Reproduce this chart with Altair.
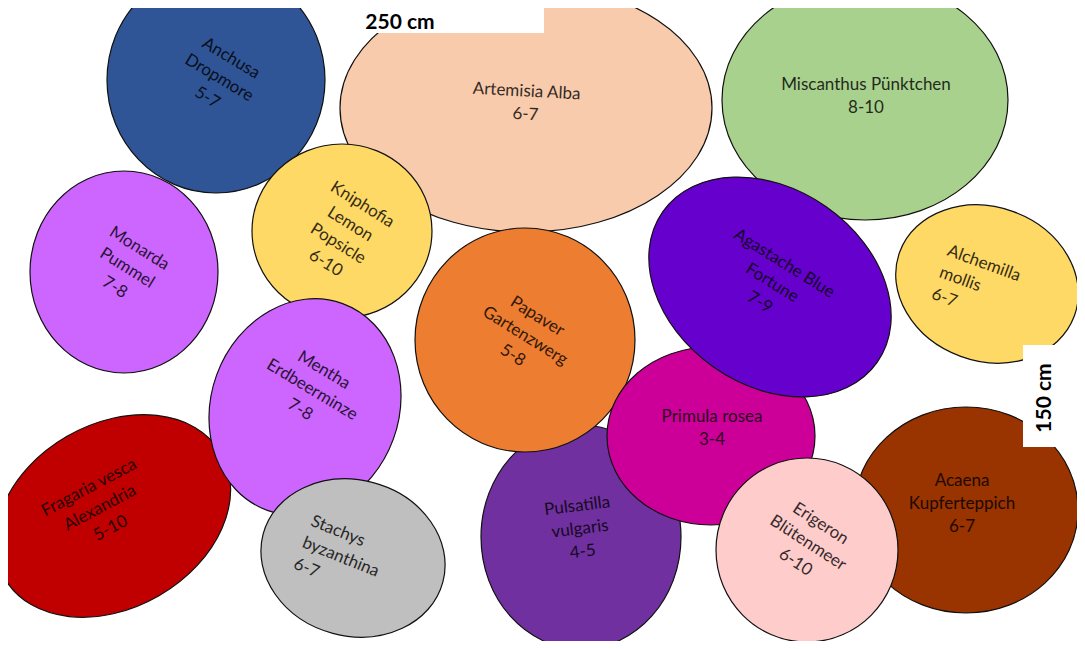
import altair as alt
import pandas as pd

# --- plants (drawn bottom to top) ---
names = ["Artemisia Alba", "Miscanthus Pünktchen", "Anchusa\nDropmore", "Monarda\nPummel",
         "Kniphofia\nLemon\nPopsicle", "Fragaria vesca\nAlexandria", "Mentha\nErdbeerminze",
         "Stachys\nbyzanthina", "Pulsatilla\nvulgaris", "Papaver\nGartenzwerg", "Primula rosea",
         "Agastache Blue\nFortune", "Alchemilla\nmollis", "Acaena\nKupferteppich", "Erigeron\nBlütenmeer"]
months = ["6-7", "8-10", "5-7", "7-8", "6-10", "5-10", "7-8", "6-7", "4-5", "5-8", "3-4",
          "7-9", "6-7", "6-7", "6-10"]
colors = ["#F8CBAD", "#A9D18E", "#2F5597", "#CC66FF", "#FFD966", "#C00000", "#CC66FF",
          "#BFBFBF", "#7030A0", "#ED7D31", "#CC0099", "#6600CC", "#FFD966", "#993300", "#FFCCCC"]
# ellipse centre / radii / tilt (bed coordinates, px of the plan)
cx = [526, 865, 216, 124, 342, 113, 305, 353, 581, 525, 711, 770, 987, 966, 807]
cy = [108, 100, 80, 272, 231, 516, 407, 558, 537, 340, 436, 287, 284, 510, 550]
rx = [186, 143, 109, 94, 90, 125, 94, 93, 100, 110, 104, 131, 93, 112, 91]
ry = [124, 120, 113, 101, 87, 92, 110, 78, 112, 112, 89, 98, 77, 103, 92]
tilt = [0, 0, 0, 0, 0, 330, 20, 15, 0, 0, 0, 35, 20, 0, 0]
# label anchor (centre of the text block) / rotation / alignment
label_x = [526, 866, 219, 127, 344, 100, 312, 303, 580, 525, 712, 772, 940, 962, 808]
label_y = [103, 96, 78, 268, 234, 508, 390, 542, 529, 336, 428, 283, 272, 504, 543]
label_angle = [3, 0, 31, 32, 32, 332, 31, 22, 353, 32, 0, 32, 20, 0, 33]
label_align = ["center", "center", "center", "center", "center", "center", "center", "left",
               "center", "center", "center", "center", "left", "center", "center"]

# --- dimension labels ---
dim_text = ["250 cm", "150 cm"]
dim_x = [400, 1045]
dim_y = [23, 398]
dim_angle = [0, 270]
box_x0 = [345, 1023]
box_x1 = [544, 1064]
box_y0 = [0, 345]
box_y1 = [33, 447]

LINE_H = 23

labels_full = [n + "\n" + m for n, m in zip(names, months)]
plants = pd.DataFrame({
    "label": labels_full,
    "nlines": [s.count("\n") + 1 for s in labels_full],
    "color": colors, "cx": cx, "cy": cy, "rx": rx, "ry": ry, "tilt": tilt,
    "lx": label_x, "ly": label_y, "langle": label_angle, "align": label_align,
    "z": list(range(len(names))),
})
dims = pd.DataFrame({"text": dim_text, "x": dim_x, "y": dim_y, "angle": dim_angle,
                     "x0": box_x0, "x1": box_x1, "y0": box_y0, "y1": box_y1})

xs = alt.Scale(domain=[8, 1077], nice=False, zero=False)
ys = alt.Scale(domain=[8, 641], nice=False, zero=False, reverse=True)

base = alt.Chart(plants)

ellipses = base.transform_calculate(
    k="datum.ry / datum.rx",
    size="pow(2 * datum.rx, 2)",
).transform_calculate(
    path="'M -1 0 A 1 ' + datum.k + ' 0 0 1 0 ' + (-datum.k) + ' A 1 ' + datum.k + "
         "' 0 0 1 1 0 A 1 ' + datum.k + ' 0 0 1 0 ' + datum.k + ' A 1 ' + datum.k + ' 0 0 1 -1 0 Z'"
).mark_point(filled=True, opacity=1, stroke="#111111", strokeWidth=1.2, clip=True).encode(
    x=alt.X("cx:Q", scale=xs, axis=None),
    y=alt.Y("cy:Q", scale=ys, axis=None),
    shape=alt.Shape("path:N", scale=None),
    size=alt.Size("size:Q", scale=None),
    angle=alt.Angle("tilt:Q", scale=None),
    fill=alt.Fill("color:N", scale=None),
    order=alt.Order("z:Q"),
)


def labels(align, n):
    return base.transform_filter(
        (alt.datum.align == align) & (alt.datum.nlines == n)
    ).mark_text(
        align=align, baseline="middle", font="Lato", fontSize=17, lineHeight=LINE_H,
        lineBreak="\n", color="black", opacity=0.8, clip=True, dy=-(n - 1) * LINE_H / 2,
    ).encode(
        x=alt.X("lx:Q", scale=xs, axis=None),
        y=alt.Y("ly:Q", scale=ys, axis=None),
        text="label:N",
        angle=alt.Angle("langle:Q", scale=None),
    )


boxes = alt.Chart(dims).mark_rect(color="white", clip=True).encode(
    x=alt.X("x0:Q", scale=xs, axis=None), x2="x1:Q",
    y=alt.Y("y0:Q", scale=ys, axis=None), y2="y1:Q",
)
dim_labels = alt.Chart(dims).mark_text(
    font="Lato", fontSize=21, fontWeight="bold", color="black", baseline="middle", align="center"
).encode(
    x=alt.X("x:Q", scale=xs, axis=None),
    y=alt.Y("y:Q", scale=ys, axis=None),
    text="text:N",
    angle=alt.Angle("angle:Q", scale=None),
)

chart = alt.layer(
    ellipses,
    labels("center", 2), labels("center", 3), labels("center", 4), labels("left", 3),
    boxes, dim_labels,
).properties(
    width=1069, height=633, padding=0, background="white"
).configure_view(strokeWidth=0)

chart.save("out.html", embed_options={"renderer": "svg", "actions": False})
